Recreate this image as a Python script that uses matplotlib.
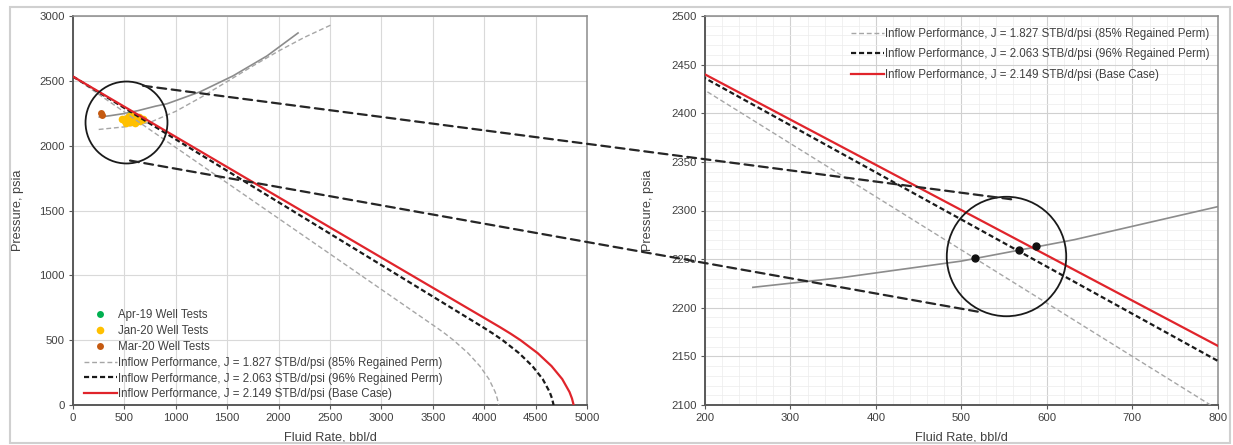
import matplotlib
matplotlib.use('Agg')
import matplotlib.pyplot as plt
from matplotlib.patches import ConnectionPatch, Rectangle
from matplotlib.ticker import MultipleLocator

plt.rcParams['font.family'] = ['Liberation Sans', 'DejaVu Sans']

# inflow performance (composite IPR, Pr ~2533 psia, Pb ~600 psia)
ipr_p = [2533, 600, 550, 500, 400, 300, 200, 100, 50, 0]
ipr_q_85 = [0, 3532, 3620, 3701, 3843, 3958, 4046, 4107, 4127, 4141]
ipr_q_96 = [0, 3988, 4087, 4179, 4339, 4469, 4569, 4637, 4660, 4675]
ipr_q_base = [0, 4154, 4257, 4353, 4520, 4655, 4759, 4830, 4854, 4870]

ipr_labels = [
    'Inflow Performance, J = 1.827 STB/d/psi (85% Regained Perm)',
    'Inflow Performance, J = 2.063 STB/d/psi (96% Regained Perm)',
    'Inflow Performance, J = 2.149 STB/d/psi (Base Case)',
]

# tubing curves
vlp_q = [256, 360, 500, 632, 800, 914, 1235, 1556, 1887, 2189]
vlp_p = [2221, 2231, 2248, 2270, 2304, 2323, 2415, 2538, 2692, 2869]
vlp2_q = [250, 500, 750, 1000, 1250, 1500, 1750, 2000, 2250, 2510]
vlp2_p = [2125, 2145, 2180, 2265, 2375, 2495, 2615, 2730, 2835, 2931]

# well tests
apr19_q = [560]
apr19_p = [2245]
jan20_q = [480, 505, 530, 555, 580, 605, 630, 655, 680, 520, 560, 600, 640, 585, 545, 620]
jan20_p = [2205, 2192, 2215, 2185, 2222, 2198, 2210, 2192, 2205, 2175, 2208, 2178, 2218, 2232, 2228, 2188]
mar20_q = [275, 285]
mar20_p = [2252, 2240]

# operating points
op_q = [516, 567, 587]
op_p = [2251, 2259, 2263]

# highlight circles and the lines joining them
circ_left = (516, 2185)
circ_right = (552, 2253)
link_top = [(681, 2462), (563, 2311)]
link_bot = [(555, 1885), (519, 2196)]

txt = '#404040'
W, H = 1233, 445
fig = plt.figure(figsize=(W / 100, H / 100), dpi=100)
ax1 = fig.add_axes([73 / W, 40 / H, 514 / W, 389 / H])
ax2 = fig.add_axes([705 / W, 40 / H, 513 / W, 389 / H])


def style_axes(ax):
    for s in ['left', 'bottom']:
        ax.spines[s].set_color('#595959')
        ax.spines[s].set_linewidth(1.4)
    for s in ['top', 'right']:
        ax.spines[s].set_color('#8c8c8c')
        ax.spines[s].set_linewidth(1.1)
    ax.tick_params(direction='out', length=3, width=0.8, color='#595959',
                   labelsize=8.2, labelcolor=txt, pad=3)
    ax.tick_params(which='minor', length=0)
    ax.set_axisbelow(True)
    ax.set_xlabel('Fluid Rate, bbl/d', fontsize=9.2, color=txt)
    ax.set_ylabel('Pressure, psia', fontsize=9.2, color=txt)


def draw_ipr(ax):
    ax.plot(ipr_q_85, ipr_p, color='#a6a6a6', lw=1.0, dashes=(3.5, 2),
            label=ipr_labels[0], zorder=3)
    ax.plot(ipr_q_96, ipr_p, color='#1a1a1a', lw=1.6, dashes=(2.3, 1.3),
            label=ipr_labels[1], zorder=4)
    ax.plot(ipr_q_base, ipr_p, color='#e0242b', lw=1.6,
            label=ipr_labels[2], zorder=5)


# left panel: full IPR
style_axes(ax1)
ax1.grid(True, color='#d9d9d9', lw=0.8)
ax1.plot(vlp_q, vlp_p, color='#8c8c8c', lw=1.2, zorder=2)
ax1.plot(vlp2_q, vlp2_p, color='#a6a6a6', lw=1.0, dashes=(3.5, 2), zorder=2)
ax1.plot(apr19_q, apr19_p, 'o', color='#00b050', ms=5, mec='none',
         label='Apr-19 Well Tests', zorder=3)
ax1.plot(jan20_q, jan20_p, 'o', color='#ffc000', ms=5.5, mec='none',
         label='Jan-20 Well Tests', zorder=3)
ax1.plot(mar20_q, mar20_p, 'o', color='#c55a11', ms=5, mec='none',
         label='Mar-20 Well Tests', zorder=3)
draw_ipr(ax1)
ax1.plot(*circ_left, 'o', ms=59, mfc='none', mec='#1a1a1a', mew=1.3, zorder=6)
ax1.set_xlim(0, 5000)
ax1.set_ylim(0, 3000)
ax1.xaxis.set_major_locator(MultipleLocator(500))
ax1.yaxis.set_major_locator(MultipleLocator(500))
ax1.xaxis.set_label_coords(0.5, -0.068)
ax1.yaxis.set_label_coords(-0.095, 0.5)
ax1.legend(loc='lower left', bbox_to_anchor=(0.022, 0.012), frameon=False,
           fontsize=8.3, handlelength=2.8, handletextpad=0.1,
           labelspacing=0.33, borderpad=0, borderaxespad=0,
           labelcolor=txt)

# right panel: close-up around the operating points
style_axes(ax2)
ax2.xaxis.set_minor_locator(MultipleLocator(20))
ax2.yaxis.set_minor_locator(MultipleLocator(10))
ax2.grid(True, which='major', color='#d0d0d0', lw=0.8)
ax2.grid(True, which='minor', color='#ececec', lw=0.5)
ax2.plot(vlp_q, vlp_p, color='#8c8c8c', lw=1.2, zorder=2)
draw_ipr(ax2)
ax2.plot(op_q, op_p, 'o', color='#111111', ms=5, zorder=6)
ax2.plot(*circ_right, 'o', ms=86, mfc='none', mec='#1a1a1a', mew=1.3, zorder=6)
ax2.set_xlim(200, 800)
ax2.set_ylim(2100, 2500)
ax2.xaxis.set_major_locator(MultipleLocator(100))
ax2.yaxis.set_major_locator(MultipleLocator(50))
ax2.xaxis.set_label_coords(0.5, -0.068)
ax2.yaxis.set_label_coords(-0.1, 0.5)
ax2.legend(loc='upper right', bbox_to_anchor=(0.983, 0.97), frameon=False,
           fontsize=8.3, handlelength=2.8, handletextpad=0.1,
           labelspacing=0.75, borderpad=0, borderaxespad=0,
           labelcolor=txt)

# dashed links between the two circles
for a, b in [link_top, link_bot]:
    con = ConnectionPatch(xyA=a, coordsA=ax1.transData,
                          xyB=b, coordsB=ax2.transData,
                          color='#262626', lw=1.6, linestyle=(0, (4, 2.5)),
                          zorder=10)
    fig.add_artist(con)

# chart area border
fig.add_artist(Rectangle((10 / W, 2 / H), 1220 / W, 436 / H,
                         transform=fig.transFigure, fill=False,
                         edgecolor='#d0d0d0', lw=1.5))

fig.savefig('out.png', dpi=100)
